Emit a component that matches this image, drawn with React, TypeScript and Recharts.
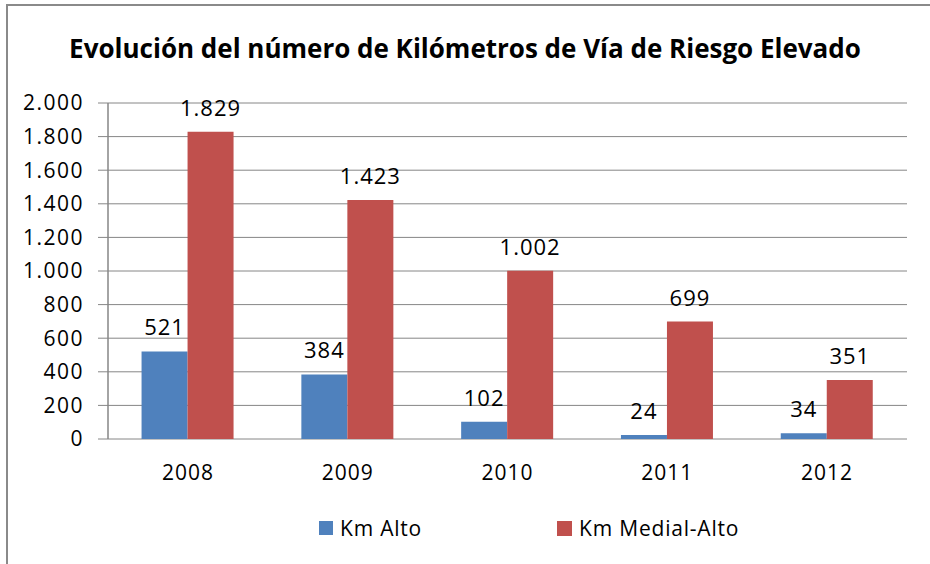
import React from 'react';
import { BarChart, Bar, XAxis, YAxis, CartesianGrid, LabelList } from 'recharts';

const years = ['2008', '2009', '2010', '2011', '2012'];
const kmAlto = [521, 384, 102, 24, 34];
const kmMedialAlto = [1829, 1423, 1002, 699, 351];
const yTicks = [0, 200, 400, 600, 800, 1000, 1200, 1400, 1600, 1800, 2000];
const boundaryTicks = [0, 1, 2, 3, 4, 5];
const seriesNames = ['Km Alto', 'Km Medial-Alto'];
const seriesColors = ['#4F81BD', '#C0504D'];
const title = 'Evolución del número de Kilómetros de Vía de Riesgo Elevado';

const data = years.map((y, i) => ({ year: y, alto: kmAlto[i], medial: kmMedialAlto[i] }));

const fmt = (v: any) => String(v).replace(/\B(?=(\d{3})+(?!\d))/g, '.');

const FONT = '"Open Sans", sans-serif';
const GRAY = '#868686';

export default function App() {
  return (
    <div style={{ position: 'absolute', left: 0, top: 0, width: 930, height: 564, background: '#fff', overflow: 'hidden', fontFamily: FONT }}>
      <div style={{ position: 'absolute', left: 6, top: 4, width: 940, height: 600, borderLeft: '2px solid #8a8a8a', borderTop: '2px solid #8a8a8a' }} />
      <div style={{ position: 'absolute', left: 0, top: 31, width: 930, textAlign: 'center', fontSize: 26, fontWeight: 700, color: '#000', whiteSpace: 'pre', lineHeight: '34px' }}>
        {title}
      </div>
      <div style={{ position: 'absolute', left: 0, top: 0 }}>
        <BarChart width={930} height={564} data={data} margin={{ top: 103, right: 23, bottom: 95, left: 0 }} barCategoryGap="21%" barGap={0}>
          <CartesianGrid vertical={false} horizontal={true} stroke={GRAY} strokeWidth={1} />
          <XAxis xAxisId="ticks" type="number" domain={[0, 5]} ticks={boundaryTicks} tick={false} tickSize={7} axisLine={{ stroke: GRAY, strokeWidth: 2 }} tickLine={{ stroke: GRAY, strokeWidth: 1.5 }} height={0} allowDataOverflow />
          <XAxis dataKey="year" xAxisId={0} axisLine={false} tickLine={false} tickSize={0} tickMargin={26} height={30} tick={{ fill: '#000', fontSize: 21, fontFamily: FONT, letterSpacing: 1 }} />
          <YAxis width={108} domain={[0, 2000]} ticks={yTicks} interval={0} tickFormatter={fmt} tickSize={10} tickMargin={14} axisLine={{ stroke: GRAY, strokeWidth: 1.5 }} tickLine={{ stroke: GRAY }} tick={{ fill: '#000', fontSize: 21, fontFamily: FONT, letterSpacing: 1.5 }} />
          <Bar dataKey="alto" name={seriesNames[0]} fill={seriesColors[0]} isAnimationActive={false}>
            <LabelList dataKey="alto" position="top" offset={16} formatter={fmt} fill="#000" fontSize={22} fontFamily={FONT} style={{ letterSpacing: 1 }} />
          </Bar>
          <Bar dataKey="medial" name={seriesNames[1]} fill={seriesColors[1]} isAnimationActive={false}>
            <LabelList dataKey="medial" position="top" offset={16} formatter={fmt} fill="#000" fontSize={22} fontFamily={FONT} style={{ letterSpacing: 1 }} />
          </Bar>
        </BarChart>
      </div>
      <div style={{ position: 'absolute', left: 319, top: 514, height: 28, display: 'flex', alignItems: 'center', fontSize: 21, color: '#000', letterSpacing: 0.8 }}>
        <span style={{ width: 14, height: 14, background: seriesColors[0], display: 'inline-block' }} />
        <span style={{ marginLeft: 7 }}>{seriesNames[0]}</span>
        <span style={{ width: 15, height: 15, background: seriesColors[1], display: 'inline-block', marginLeft: 135 }} />
        <span style={{ marginLeft: 7 }}>{seriesNames[1]}</span>
      </div>
    </div>
  );
}
